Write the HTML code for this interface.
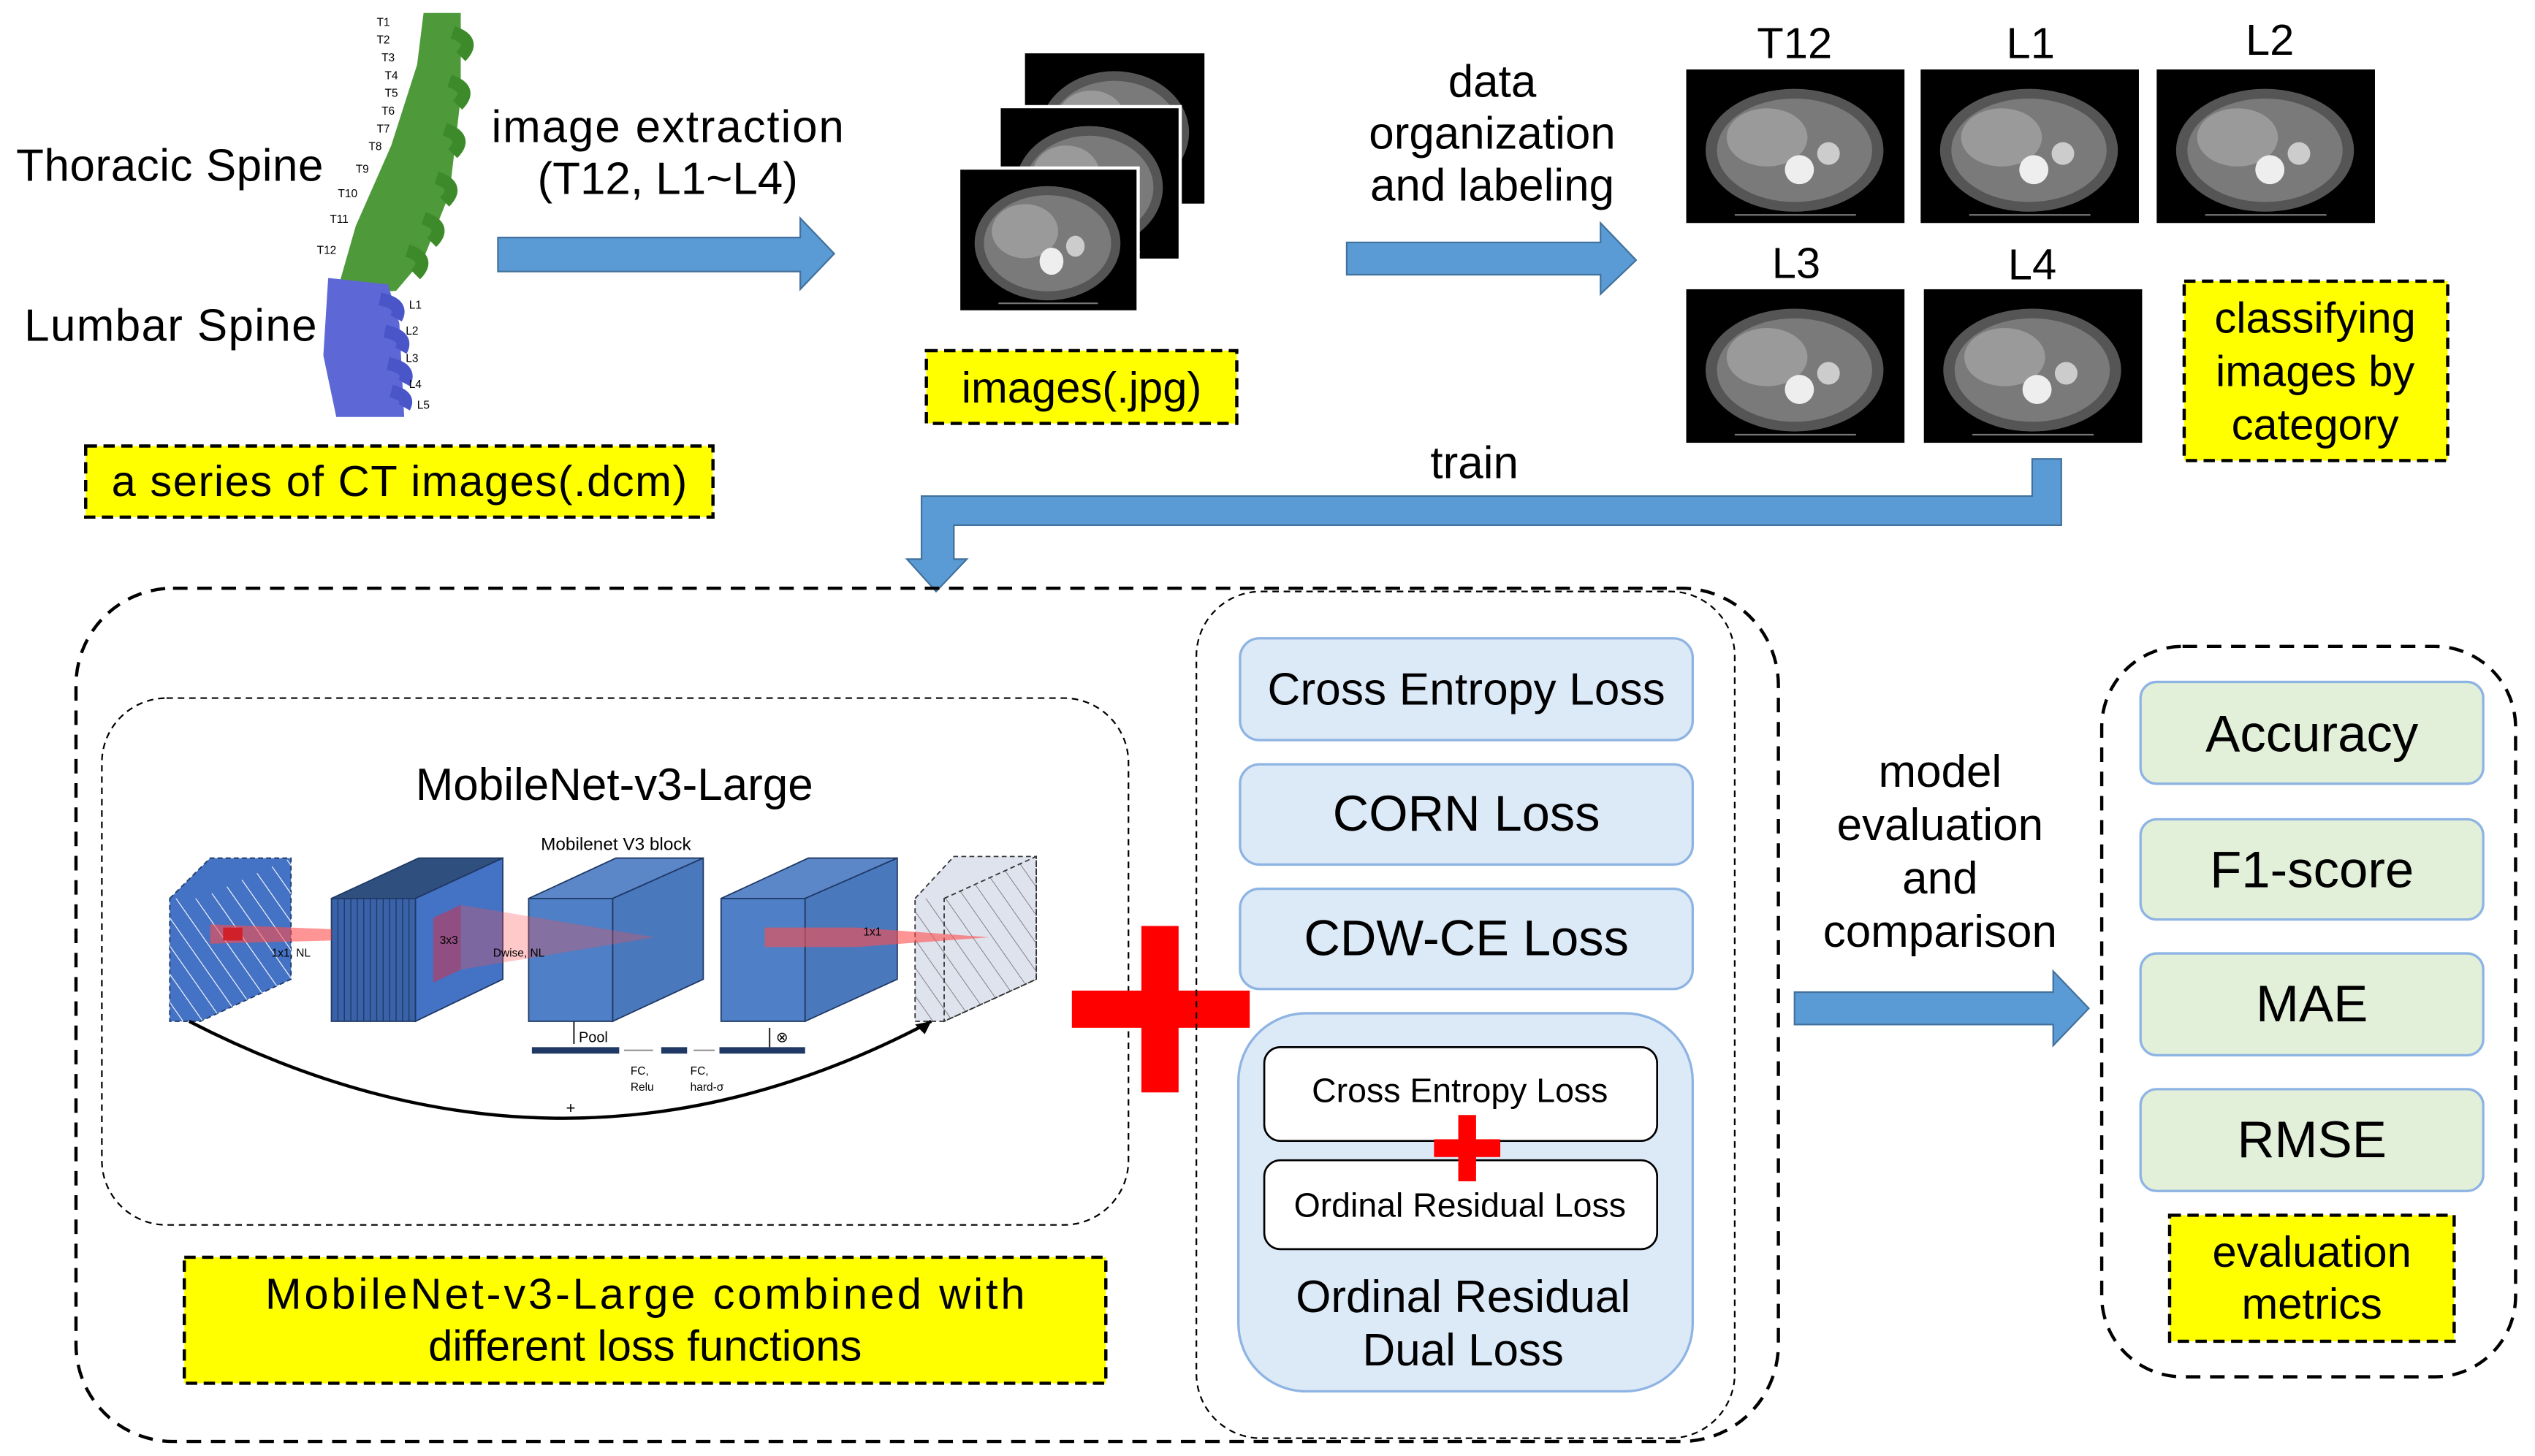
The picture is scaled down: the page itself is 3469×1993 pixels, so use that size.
<!DOCTYPE html>
<html><head><meta charset="utf-8"><style>
html,body{margin:0;padding:0;background:#fff;}
svg{display:block;}
text{font-family:"Liberation Sans",sans-serif;fill:#000;}
</style></head><body>
<svg width="3469" height="1993" viewBox="0 0 1568 901" preserveAspectRatio="none" xmlns="http://www.w3.org/2000/svg">
<defs>
<g id="ct">
<rect x="0" y="0" width="135" height="95" fill="#000"/>
<ellipse cx="67" cy="50" rx="55" ry="38" fill="#555"/>
<ellipse cx="67" cy="50" rx="48" ry="32" fill="#7a7a7a"/>
<ellipse cx="50" cy="42" rx="25" ry="18" fill="#9a9a9a"/>
<circle cx="70" cy="62" r="9" fill="#eee"/>
<circle cx="88" cy="52" r="7" fill="#ccc"/>
<line x1="30" y1="90" x2="105" y2="90" stroke="#777" stroke-width="1"/>
</g>
<pattern id="hatch" width="10" height="10" patternUnits="userSpaceOnUse" patternTransform="rotate(-35)">
<line x1="0" y1="0" x2="0" y2="10" stroke="#fff" stroke-width="1"/></pattern>
<pattern id="hatch2" width="10" height="10" patternUnits="userSpaceOnUse" patternTransform="rotate(-35)">
<line x1="0" y1="0" x2="0" y2="10" stroke="#777" stroke-width="0.8"/></pattern>
</defs>

<!-- Spine -->
<path d="M262 8 L285 8 L285 60 L278 120 L262 160 L245 180 L208 182 L220 140 L242 90 L258 40 Z" fill="#4e9a3a"/>
<path d="M280 20 q15 5 5 15 M278 50 q15 5 5 15 M275 80 q15 5 5 15 M270 110 q15 5 5 15 M262 135 q15 5 5 15 M252 155 q15 5 5 15" stroke="#3d8a2a" stroke-width="8" fill="none"/>
<path d="M203 172 L240 176 L247 200 L250 258 L208 258 L200 220 Z" fill="#5d68d6"/>
<path d="M235 185 q15 3 10 12 M238 205 q15 3 10 12 M240 225 q15 3 10 12 M242 242 q12 3 8 10" stroke="#4a55c8" stroke-width="8" fill="none"/>
<g font-size="7" font-family="Liberation Serif" fill="#555">
<text x="233" y="16">T1</text><text x="233" y="27">T2</text><text x="236" y="38">T3</text><text x="238" y="49">T4</text><text x="238" y="60">T5</text><text x="236" y="71">T6</text><text x="233" y="82">T7</text><text x="228" y="93">T8</text><text x="220" y="107">T9</text><text x="209" y="122">T10</text><text x="204" y="138">T11</text><text x="196" y="157">T12</text>
<text x="253" y="191">L1</text><text x="251" y="207">L2</text><text x="251" y="224">L3</text><text x="253" y="240">L4</text><text x="258" y="253">L5</text>
</g>
<text x="10" y="112" font-size="28" textLength="190">Thoracic Spine</text>
<text x="15" y="211" font-size="28" textLength="181">Lumbar Spine</text>
<rect x="53" y="276" width="388" height="44" fill="#ffff00" stroke="#000" stroke-width="2" stroke-dasharray="7,4"/>
<text x="247" y="307" font-size="27" text-anchor="middle" textLength="356">a series of CT images(.dcm)</text>

<text x="413" y="88" font-size="28" text-anchor="middle" textLength="218">image extraction</text>
<text x="413" y="120" font-size="28" text-anchor="middle">(T12, L1~L4)</text>
<path d="M308 147 L495 147 L495 135 L516 157 L495 179 L495 168 L308 168 Z" fill="#5b9bd5" stroke="#41719c" stroke-width="1"/>

<!-- stacked CT -->
<g transform="translate(633,32) scale(0.84,1)"><use href="#ct"/></g>
<rect x="633" y="32" width="113" height="95" fill="none" stroke="#fff" stroke-width="2"/>
<g transform="translate(618,66) scale(0.83,1)"><use href="#ct"/></g>
<rect x="618" y="66" width="112" height="95" fill="none" stroke="#fff" stroke-width="2"/>
<g transform="translate(593,104) scale(0.82,0.93)"><use href="#ct"/></g>
<rect x="593" y="104" width="111" height="89" fill="none" stroke="#fff" stroke-width="2"/>
<rect x="573" y="217" width="192" height="45" fill="#ffff00" stroke="#000" stroke-width="2" stroke-dasharray="7,4"/>
<text x="669" y="249" font-size="27" text-anchor="middle">images(.jpg)</text>

<text x="923" y="60" font-size="28" text-anchor="middle">data</text>
<text x="923" y="92" font-size="28" text-anchor="middle">organization</text>
<text x="923" y="124" font-size="28" text-anchor="middle">and labeling</text>
<path d="M833 150 L990 150 L990 138 L1012 161 L990 182 L990 170 L833 170 Z" fill="#5b9bd5" stroke="#41719c" stroke-width="1"/>

<!-- CT grid -->
<use href="#ct" x="1043" y="43"/><use href="#ct" x="1188" y="43"/><use href="#ct" x="1334" y="43"/>
<use href="#ct" x="1043" y="179"/><use href="#ct" x="1190" y="179"/>
<g font-size="27" text-anchor="middle">
<text x="1110" y="36">T12</text><text x="1256" y="36">L1</text><text x="1404" y="34">L2</text>
<text x="1111" y="172">L3</text><text x="1257" y="173">L4</text>
</g>
<rect x="1351" y="174" width="163" height="111" fill="#ffff00" stroke="#000" stroke-width="2" stroke-dasharray="7,4"/>
<text x="1432" y="206" font-size="27" text-anchor="middle">classifying</text>
<text x="1432" y="239" font-size="27" text-anchor="middle">images by</text>
<text x="1432" y="272" font-size="27" text-anchor="middle">category</text>

<!-- train arrow -->
<text x="912" y="296" font-size="28" text-anchor="middle">train</text>
<path d="M1257 284 L1275 284 L1275 325 L590 325 L590 346 L598 346 L579 366 L561 346 L570 346 L570 307 L1257 307 Z" fill="#5b9bd5" stroke="#41719c" stroke-width="1"/>

<!-- big dashed box -->
<rect x="47" y="364" width="1053" height="528" rx="60" fill="none" stroke="#000" stroke-width="2" stroke-dasharray="9,6"/>
<rect x="63" y="432" width="635" height="326" rx="40" fill="none" stroke="#000" stroke-width="1" stroke-dasharray="4,3"/>
<text x="380" y="495" font-size="28" text-anchor="middle">MobileNet-v3-Large</text>
<text x="381" y="526" font-size="11" text-anchor="middle" fill="#333">Mobilenet V3 block</text>

<!-- block diagram -->
<g stroke="#1f3864" stroke-width="0.8">
<path d="M105 556 L130 531 L180 531 L180 606 L124 632 L105 632 Z" fill="#4472c4" stroke-dasharray="3,2"/>
<rect x="105" y="556" width="19" height="76" fill="url(#hatch)" stroke="none"/>
<path d="M124 556 L180 531 L180 606 L124 632 Z" fill="url(#hatch)" stroke="none"/>
<path d="M205 556 L259 531 L311 531 L257 556 Z" fill="#2f4f7f"/>
<rect x="205" y="556" width="52" height="76" fill="#3a62a8"/>
<path d="M257 556 L311 531 L311 606 L257 632 Z" fill="#4472c4"/>
<path d="M209 556 V632 M213 556 V632 M217 556 V632 M221 556 V632 M225 556 V632 M229 556 V632 M233 556 V632 M237 556 V632 M241 556 V632 M245 556 V632 M249 556 V632 M253 556 V632" stroke="#1f3864" stroke-width="0.6"/>
<path d="M327 556 L381 531 L435 531 L379 556 Z" fill="#5b87c9"/>
<rect x="327" y="556" width="52" height="76" fill="#4f7fc6"/>
<path d="M379 556 L435 531 L435 606 L379 632 Z" fill="#4a78bd"/>
<path d="M446 556 L500 531 L555 531 L498 556 Z" fill="#5b87c9"/>
<rect x="446" y="556" width="52" height="76" fill="#4f7fc6"/>
<path d="M498 556 L555 531 L555 606 L498 632 Z" fill="#4a78bd"/>
<path d="M566 556 L590 530 L641 530 L641 606 L584 632 L566 632 Z" fill="#dfe3ee" stroke="#333" stroke-dasharray="3,2"/>
<rect x="566" y="556" width="18" height="76" fill="url(#hatch2)" stroke="none"/>
<path d="M584 556 L641 530 L641 606 L584 632 Z" fill="url(#hatch2)" stroke="#333" stroke-dasharray="3,2"/>
</g>
<g fill="#ff4d4d" opacity="0.6">
<path d="M130 572 L205 575 L205 582 L130 584 Z"/>
<path d="M268 568 L285 560 L285 600 L268 608 Z" fill="#d0304a" opacity="0.9"/>
<path d="M285 560 L405 580 L285 600 Z" opacity="0.5"/>
<path d="M473 574 L530 574 L612 580 L530 586 L473 586 Z"/>
</g>
<rect x="138" y="574" width="12" height="8" fill="#d0202a"/>
<g font-size="7" fill="#222">
<text x="168" y="592">1x1, NL</text><text x="305" y="592">Dwise, NL</text><text x="534" y="579">1x1</text><text x="272" y="584">3x3</text>
<text x="358" y="645" font-size="9">Pool</text>
<text x="390" y="665">FC,</text><text x="390" y="675">Relu</text>
<text x="427" y="665">FC,</text><text x="427" y="675">hard-σ</text>
<text x="480" y="645" font-size="9">⊗</text>
</g>
<g fill="#1f3864"><rect x="329" y="648" width="54" height="4"/><rect x="409" y="648" width="16" height="4"/><rect x="445" y="648" width="53" height="4"/></g>
<path d="M355 632 V646 M476 648 V636" stroke="#333" stroke-width="1"/>
<path d="M386 650 H404 M429 650 H442" stroke="#999" stroke-width="1"/>
<path d="M117 632 Q350 752 576 632" fill="none" stroke="#000" stroke-width="2"/>
<path d="M576 632 L566 634 L572 640 Z" fill="#000"/>
<text x="353" y="689" font-size="10" text-anchor="middle" fill="#555">+</text>

<rect x="114" y="778" width="570" height="78" fill="#ffff00" stroke="#000" stroke-width="2" stroke-dasharray="7,4"/>
<text x="399" y="810" font-size="27" text-anchor="middle" textLength="470">MobileNet-v3-Large combined with</text>
<text x="399" y="842" font-size="27" text-anchor="middle">different loss functions</text>

<!-- red plus -->
<rect x="663" y="613" width="110" height="23" fill="#f00"/>
<rect x="706" y="573" width="23" height="103" fill="#f00"/>

<!-- loss column -->
<rect x="740" y="366" width="333" height="524" rx="40" fill="none" stroke="#000" stroke-width="1" stroke-dasharray="4,3"/>
<g fill="#dce9f7" stroke="#8eb4e3" stroke-width="1.5">
<rect x="767" y="395" width="280" height="63" rx="12"/>
<rect x="767" y="473" width="280" height="62" rx="12"/>
<rect x="767" y="550" width="280" height="62" rx="12"/>
<rect x="766" y="627" width="281" height="234" rx="42"/>
</g>
<text x="907" y="436" font-size="28" text-anchor="middle" textLength="246">Cross Entropy Loss</text>
<text x="907" y="514" font-size="31" text-anchor="middle">CORN Loss</text>
<text x="907" y="591" font-size="31" text-anchor="middle">CDW-CE Loss</text>
<rect x="782" y="648" width="243" height="58" rx="10" fill="#fff" stroke="#000" stroke-width="1.2"/>
<rect x="782" y="718" width="243" height="55" rx="10" fill="#fff" stroke="#000" stroke-width="1.2"/>
<text x="903" y="682" font-size="21" text-anchor="middle">Cross Entropy Loss</text>
<text x="903" y="753" font-size="21" text-anchor="middle">Ordinal Residual Loss</text>
<rect x="887" y="705" width="41" height="11" fill="#f00"/>
<rect x="902" y="690" width="11" height="41" fill="#f00"/>
<text x="905" y="812" font-size="28" text-anchor="middle">Ordinal Residual</text>
<text x="905" y="845" font-size="28" text-anchor="middle">Dual Loss</text>

<!-- eval -->
<text x="1200" y="487" font-size="28" text-anchor="middle">model</text>
<text x="1200" y="520" font-size="28" text-anchor="middle">evaluation</text>
<text x="1200" y="553" font-size="28" text-anchor="middle">and</text>
<text x="1200" y="586" font-size="28" text-anchor="middle">comparison</text>
<path d="M1110 614 L1270 614 L1270 601 L1292 624 L1270 647 L1270 634 L1110 634 Z" fill="#5b9bd5" stroke="#41719c" stroke-width="1"/>

<rect x="1300" y="400" width="256" height="452" rx="50" fill="none" stroke="#000" stroke-width="2" stroke-dasharray="9,6"/>
<g fill="#e2efd9" stroke="#8eb4e3" stroke-width="1.5">
<rect x="1324" y="422" width="212" height="63" rx="10"/>
<rect x="1324" y="507" width="212" height="62" rx="10"/>
<rect x="1324" y="590" width="212" height="63" rx="10"/>
<rect x="1324" y="674" width="212" height="63" rx="10"/>
</g>
<g font-size="32" text-anchor="middle">
<text x="1430" y="465">Accuracy</text>
<text x="1430" y="549">F1-score</text>
<text x="1430" y="632">MAE</text>
<text x="1430" y="716">RMSE</text>
</g>
<rect x="1342" y="752" width="176" height="78" fill="#ffff00" stroke="#000" stroke-width="2" stroke-dasharray="7,4"/>
<text x="1430" y="784" font-size="27" text-anchor="middle">evaluation</text>
<text x="1430" y="816" font-size="27" text-anchor="middle">metrics</text>
</svg>
</body></html>
